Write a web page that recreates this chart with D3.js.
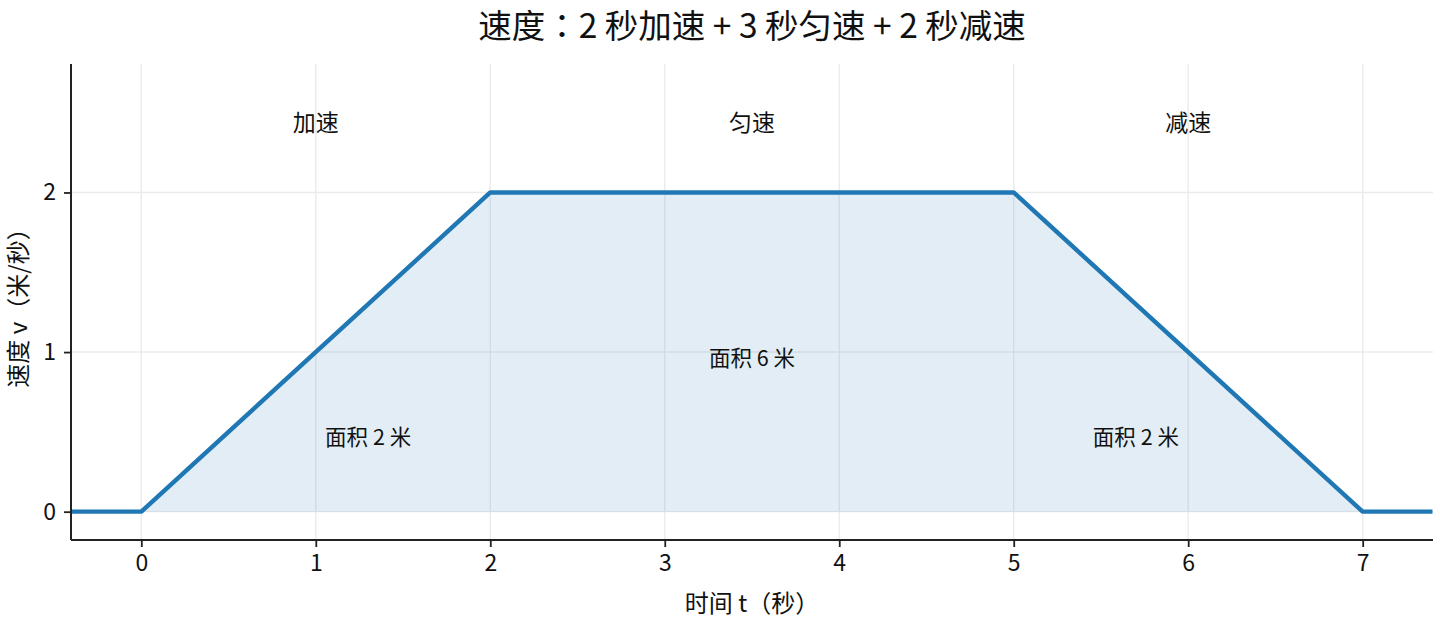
<!DOCTYPE html>
<html><head><meta charset="utf-8">
<script src="https://cdn.jsdelivr.net/npm/d3@7"></script>
<style>
body{margin:0;background:#fff;}
text{font-family:"Noto Sans CJK SC","Noto Sans",sans-serif;fill:#111;}
</style></head>
<body><svg id="c" width="1440" height="624"></svg>
<script>
const timePoints = [-0.4, 0, 2, 5, 7, 7.4];
const speedValues = [0, 0, 2, 2, 0, 0];
const fillTimes = [0, 2, 5, 7];
const fillSpeeds = [0, 2, 2, 0];
const xTicks = [0, 1, 2, 3, 4, 5, 6, 7];
const yTicks = [0, 1, 2];
const phaseLabels = ["加速", "匀速", "减速"];
const phaseX = [1, 3.5, 6];
const phaseY = [2.45, 2.45, 2.45];
const areaLabels = ["面积 2 米", "面积 6 米", "面积 2 米"];
const areaX = [1.3, 3.5, 5.7];
const areaY = [0.48, 0.975, 0.48];
const titleParts = ["速度", "：", "2 秒加速 + 3 秒匀速 + 2 秒减速"];
const xLabel = "时间 t（秒）";
const yLabel = "速度 v（米/秒）";

const L = 71, R = 1433, T = 64, B = 540;
const svg = d3.select("#c");
const x = d3.scaleLinear().domain([-0.403, 7.403]).range([L, R]);
const y = d3.scaleLinear().domain([-0.1775, 2.805]).range([B, T]);

svg.append("defs").append("clipPath").attr("id","clip")
  .append("rect").attr("x",L).attr("y",T).attr("width",R-L).attr("height",B-T);

// grid
const g = svg.append("g");
g.selectAll("line.vx").data(xTicks).join("line")
  .attr("x1",d=>x(d)).attr("x2",d=>x(d)).attr("y1",T).attr("y2",B)
  .attr("stroke","#ebebeb").attr("stroke-width",1.4);
g.selectAll("line.hy").data(yTicks).join("line")
  .attr("y1",d=>y(d)).attr("y2",d=>y(d)).attr("x1",L).attr("x2",R)
  .attr("stroke","#ebebeb").attr("stroke-width",1.4);

const plot = svg.append("g").attr("clip-path","url(#clip)");
const fillData = fillTimes.map((t,i)=>[t, fillSpeeds[i]]);
plot.append("path").datum(fillData)
  .attr("d", d3.area().x(d=>x(d[0])).y0(y(0)).y1(d=>y(d[1])))
  .attr("fill","#1f77b4").attr("fill-opacity",0.13);
const lineData = timePoints.map((t,i)=>[t, speedValues[i]]);
plot.append("path").datum(lineData)
  .attr("d", d3.line().x(d=>x(d[0])).y(d=>y(d[1])))
  .attr("fill","none").attr("stroke","#1f77b4").attr("stroke-width",4.4)
  .attr("stroke-linejoin","round");

// axes
const xAxis = svg.append("g").attr("transform",`translate(0,${B})`)
  .call(d3.axisBottom(x).tickValues(xTicks).tickSize(7).tickPadding(8).tickFormat(d3.format("d")));
const yAxis = svg.append("g").attr("transform",`translate(${L},0)`)
  .call(d3.axisLeft(y).tickValues(yTicks).tickSize(7).tickPadding(8).tickFormat(d3.format("d")));
[xAxis,yAxis].forEach(a=>{
  a.select(".domain").attr("stroke","#222").attr("stroke-width",2);
  a.selectAll(".tick line").attr("stroke","#222").attr("stroke-width",1.8);
  a.selectAll(".tick text").style("font-size","23px").style("fill","#111")
    .style("font-family",'"Noto Sans CJK SC","Noto Sans",sans-serif');
});
xAxis.select(".domain").attr("d",`M${L},0H${R}`);
yAxis.select(".domain").attr("d",`M0,${B}V${T}`);

// labels
svg.selectAll("text.phase").data(phaseLabels).join("text").attr("class","phase")
  .attr("x",(d,i)=>x(phaseX[i])).attr("y",(d,i)=>y(phaseY[i]))
  .attr("text-anchor","middle").attr("dominant-baseline","central")
  .style("font-size","23px").text(d=>d);
svg.selectAll("text.area").data(areaLabels).join("text").attr("class","area")
  .attr("x",(d,i)=>x(areaX[i])).attr("y",(d,i)=>y(areaY[i]))
  .attr("text-anchor","middle").attr("dominant-baseline","central")
  .style("font-size","21.5px").text(d=>d);

const title = svg.append("text").attr("x",752).attr("y",23).attr("text-anchor","middle")
  .attr("dominant-baseline","central").style("font-size","33.5px");
title.selectAll("tspan").data(titleParts).join("tspan")
  .style("font-family",(d,i)=> i===1 ? '"Noto Sans CJK JP"' : null)
  .text(d=>d);
svg.append("text").attr("x",752).attr("y",601).attr("text-anchor","middle")
  .attr("dominant-baseline","central").style("font-size","24px").text(xLabel);
svg.append("text").attr("transform",`translate(16,${(T+B)/2}) rotate(-90)`)
  .attr("text-anchor","middle").attr("dominant-baseline","central")
  .style("font-size","24px").text(yLabel);
</script></body></html>
